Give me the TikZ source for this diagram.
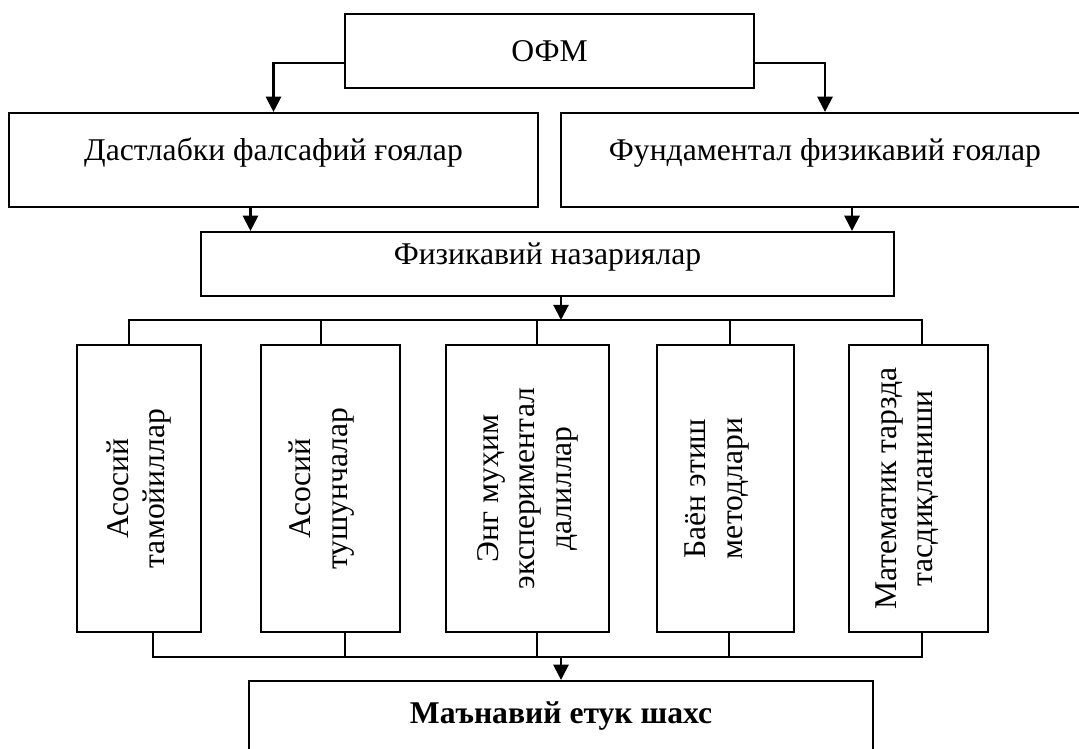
\documentclass[tikz,border=0pt]{standalone}
\usepackage{fontspec}
\setmainfont{Liberation Serif}
\usetikzlibrary{arrows.meta}

\begin{document}
\begin{tikzpicture}[x=0.025cm,y=-0.025cm,line width=1.5pt,>={Triangle[length=0.38cm,width=0.38cm]},
  main box/.style={draw,rectangle,inner sep=0pt,align=center,font=\fontsize{22.5}{26}\selectfont},
  wide box/.style={main box,minimum height=2.35cm,text height=0.6cm,text depth=0.6cm},
  side box/.style={main box,rotate=90,minimum width=7.175cm}]
  \useasboundingbox (0,0) rectangle (1079,749);
  \clip (0,0) rectangle (1079,749);

  \node[main box,minimum width=10.225cm,minimum height=1.85cm] (ofm) at (549.5,51) {ОФМ};
  \node[wide box,minimum width=13.225cm] (dast) at (273.5,160) {Дастлабки фалсафий ғоялар};
  \node[wide box,minimum width=13.2cm] (fund) at (825,160) {Фундаментал физикавий ғоялар};
  \node[main box,minimum width=17.325cm,minimum height=1.6cm,text height=0.6cm,text depth=0.6cm] (fiz) at (547.5,264) {Физикавий назариялар};

  \node[side box,minimum height=3.1cm] (b1) at (139,488.5) {Асосий\\тамойиллар};
  \node[side box,minimum height=3.475cm,text depth=0.62cm] (b2) at (330.5,488.5) {Асосий\\тушунчалар};
  \node[side box,minimum height=4.075cm] (b3) at (527.5,488.5) {Энг муҳим\\экспериментал\\далиллар};
  \node[side box,minimum height=3.425cm,text depth=0.6cm] (b4) at (725.5,488.5) {Баён этиш\\методлари};
  \node[side box,minimum height=3.475cm,text depth=0.72cm] (b5) at (918.5,488.5) {Математик тарзда\\тасдиқланиши};

  \node[main box,minimum width=15.6cm,minimum height=1.9cm,text height=0.55cm,text depth=0.35cm,font=\fontsize{22.5}{26}\selectfont\bfseries] (etuk) at (561,719) {Маънавий етук шахс};

  \draw[->] ([yshift=-0.3cm]ofm.west) -| (dast.north);
  \draw[->] ([yshift=-0.3cm]ofm.east) -| (fund.north);
  \coordinate[xshift=-0.575cm] (dA) at (dast.south);
  \coordinate[xshift=0.675cm] (fA) at (fund.south);
  \draw[->] (dA) -- (dA |- fiz.north);
  \draw[->] (fA) -- (fA |- fiz.north);

  \coordinate (busT) at (561,320);
  \coordinate (busB) at (561,657);
  \draw[->] (fiz.south -| busT) -- (busT);
  \foreach \n/\tx/\bx in {1/129/153,2/321/345,3/537/537,4/730/729,5/922/922}{
    \coordinate (t\n) at (\tx,320);
    \coordinate (u\n) at (\bx,657);
  }
  \draw (t1 |- b1.east) -- (t1) -- (t5) -- (t5 |- b5.east);
  \draw (u1 |- b1.west) -- (u1) -- (u5) -- (u5 |- b5.west);
  \foreach \n in {2,3,4}{
    \draw (t\n) -- (t\n |- b\n.east);
    \draw (u\n |- b\n.west) -- (u\n);
  }
  \draw[->] (busB) -- (etuk.north);
\end{tikzpicture}
\end{document}
